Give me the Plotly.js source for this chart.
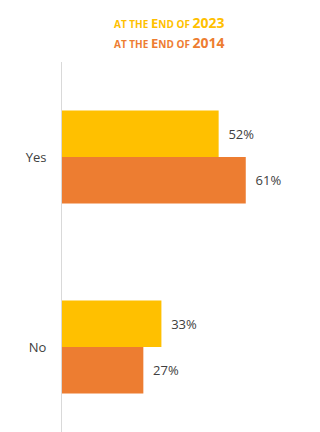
<!DOCTYPE html>
<html>
<head>
<meta charset="utf-8">
<script src="https://cdn.plot.ly/plotly-3.0.1.min.js"></script>
<style>html,body{margin:0;padding:0;background:#fff;}#chart{width:320px;height:432px;}</style>
</head>
<body>
<div id="chart"></div>
<script>
const categories = ['Yes', 'No'];
const values2023 = [52, 33];
const values2014 = [61, 27];
const seriesNames = ['at the End of 2023', 'at the End of 2014'];

const yellow = '#FFC000';
const orange = '#ED7D31';
const labelColor = '#404040';

function pct(v) { return '\u00a0\u00a0' + v + '%'; }

const traces = [
  {
    type: 'bar', orientation: 'h', name: seriesNames[0],
    y: categories, x: values2023,
    marker: {color: yellow},
    text: values2023.map(pct), textposition: 'outside', cliponaxis: false,
    textfont: {family: 'Open Sans, sans-serif', size: 13, color: labelColor},
    hoverinfo: 'none'
  },
  {
    type: 'bar', orientation: 'h', name: seriesNames[1],
    y: categories, x: values2014,
    marker: {color: orange},
    text: values2014.map(pct), textposition: 'outside', cliponaxis: false,
    textfont: {family: 'Open Sans, sans-serif', size: 13, color: labelColor},
    hoverinfo: 'none'
  }
];

function smallCaps(label) {
  const small = 10, big = 13;
  return label.split(' ').map(w => {
    if (/^\d+$/.test(w)) return `<span style="font-size:${big + 1}px">${w}</span>`;
    const first = w[0], rest = w.slice(1);
    const firstSize = (first === first.toUpperCase()) ? big : small;
    return `<span style="font-size:${firstSize}px">${first.toUpperCase()}</span>` +
           (rest ? `<span style="font-size:${small}px">${rest.toUpperCase()}</span>` : '');
  }).join(' ');
}

const layout = {
  width: 320, height: 432,
  margin: {l: 62, r: 17, t: 62, b: 0},
  paper_bgcolor: '#fff', plot_bgcolor: '#fff',
  showlegend: false,
  barmode: 'group',
  bargap: 0.51, bargroupgap: 0,
  xaxis: {range: [0, 80], showgrid: false, zeroline: false, showticklabels: false, showline: false, fixedrange: true},
  yaxis: {
    type: 'category', categoryorder: 'array', categoryarray: categories,
    range: [1.447, -0.5],
    showgrid: false, zeroline: false,
    showline: true, linecolor: '#D9D9D9', linewidth: 1,
    ticks: '', ticklabelstandoff: 12,
    tickfont: {family: 'Open Sans, sans-serif', size: 13, color: labelColor}
  },
  annotations: [
    {xref: 'paper', yref: 'paper', x: 0.448, y: 1, yshift: 40, xanchor: 'center', yanchor: 'middle', showarrow: false,
     text: smallCaps(seriesNames[0]), font: {family: 'Open Sans, sans-serif', color: yellow, size: 10, weight: 'bold'}},
    {xref: 'paper', yref: 'paper', x: 0.448, y: 1, yshift: 20, xanchor: 'center', yanchor: 'middle', showarrow: false,
     text: smallCaps(seriesNames[1]), font: {family: 'Open Sans, sans-serif', color: orange, size: 10, weight: 'bold'}}
  ]
};

Plotly.newPlot('chart', traces, layout, {displayModeBar: false, staticPlot: true});
</script>
</body>
</html>
